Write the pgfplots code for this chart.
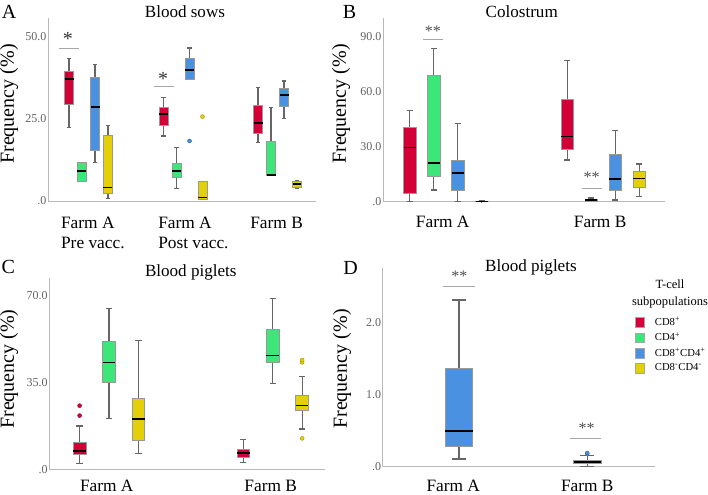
\documentclass[border=0pt]{standalone}
\usepackage{fontspec}
\setmainfont{Liberation Serif}
\usepackage{pgfplots}
\pgfplotsset{compat=1.18}
\usepgfplotslibrary{statistics}
\definecolor{cred}{RGB}{210,0,55}
\definecolor{cgreen}{RGB}{60,230,120}
\definecolor{cblue}{RGB}{75,145,225}
\definecolor{cyellow}{RGB}{228,208,10}
\tikzset{sig/.style={draw=black!35, line width=0.6pt}}
\pgfplotsset{
 every axis title shift=0pt,
 panel/.style={
  scale only axis, clip=false, axis lines*=left,
  axis line style={draw=black!28, line width=0.7pt},
  major tick length=0pt,
  ymin=0,
  boxplot/draw direction=y,
  yticklabel style={font=\fontsize{9}{10}\selectfont, text=black!62, inner sep=1pt},
  xticklabel style={font=\fontsize{13}{15}\selectfont, align=left, inner sep=0pt},
  ylabel={Frequency (\%)},
  ylabel style={font=\fontsize{15}{16}\selectfont, anchor=center, inner sep=0pt},
  title style={font=\fontsize{12.8}{14}\selectfont, anchor=center, inner sep=0pt},
  boxplot/every box/.style={draw=black!40, line width=0.6pt},
  boxplot/every whisker/.style={draw=black!60, line width=0.9pt},
  boxplot/every median/.style={draw=black, line width=1.3pt},
  boxplot/whisker extend=\pgfkeysvalueof{/pgfplots/boxplot/box extend}*0.5,
 },
 bx/.style={fill=#1, draw=black!40, mark=*, mark size=1.5pt, mark options={fill=#1, draw=#1!70!black, line width=0.3pt}},
}
\begin{document}
\begin{tikzpicture}
\useasboundingbox (0,0) rectangle (531pt,-370.5pt);
% ---------------- Panel A
\begin{axis}[panel, at={(36pt,-150.75pt)}, anchor=south west, width=201pt, height=137.25pt,
  xmin=-0.4286, xmax=2.407, ymax=55.5,
  ytick={0,25,50}, yticklabels={.0,25.0,50.0},
  xtick={0.046,1.11,1.99}, xticklabels={{Farm A\\Pre vacc.},{Farm A\\Post vacc.},{Farm B}},
  xticklabel style={yshift=-11.8pt},
  ylabel style={at={(axis description cs:-0.1455,0.53)}},
  title={Blood sows}, title style={at={(axis description cs:0.511,1.037)}}]
\addplot[bx=cred, boxplot prepared={draw position=-0.206, box extend=0.095, lower whisker=22.3, lower quartile=29.4, median=37.0, upper quartile=39.2, upper whisker=43.2}] coordinates {};
\addplot[bx=cgreen, boxplot prepared={draw position=-0.069, box extend=0.095, lower whisker=5.9, lower quartile=5.9, median=9.1, upper quartile=11.7, upper whisker=11.7}] coordinates {};
\addplot[bx=cblue, boxplot prepared={draw position=0.069, box extend=0.095, lower whisker=11.6, lower quartile=15.3, median=28.6, upper quartile=37.6, upper whisker=41.4}] coordinates {};
\addplot[bx=cyellow, boxplot prepared={draw position=0.206, box extend=0.095, lower whisker=0.8, lower quartile=2.3, median=4.1, upper quartile=19.8, upper whisker=22.8}] coordinates {};
\addplot[bx=cred, boxplot prepared={draw position=0.794, box extend=0.095, lower whisker=19.7, lower quartile=22.8, median=26.4, upper quartile=28.3, upper whisker=31.4}] coordinates {};
\addplot[bx=cgreen, boxplot prepared={draw position=0.931, box extend=0.095, lower whisker=3.7, lower quartile=7.1, median=9.2, upper quartile=11.4, upper whisker=16.3}] coordinates {};
\addplot[bx=cblue, boxplot prepared={draw position=1.069, box extend=0.095, lower whisker=37.0, lower quartile=37.0, median=39.7, upper quartile=43.3, upper whisker=46.4}] table[row sep=\\,y index=0] {data\\ 18.2\\};
\addplot[bx=cyellow, boxplot prepared={draw position=1.206, box extend=0.095, lower whisker=0.6, lower quartile=0.6, median=1.1, upper quartile=5.9, upper whisker=5.9}] table[row sep=\\,y index=0] {data\\ 25.6\\};
\addplot[bx=cred, boxplot prepared={draw position=1.794, box extend=0.095, lower whisker=17.7, lower quartile=20.6, median=23.7, upper quartile=29.0, upper whisker=34.4}] coordinates {};
\addplot[bx=cgreen, boxplot prepared={draw position=1.931, box extend=0.095, lower whisker=7.7, lower quartile=7.7, median=7.9, upper quartile=18.0, upper whisker=28.3}] coordinates {};
\addplot[bx=cblue, boxplot prepared={draw position=2.069, box extend=0.095, lower whisker=25.1, lower quartile=28.6, median=32.2, upper quartile=34.1, upper whisker=36.4}] coordinates {};
\addplot[bx=cyellow, boxplot prepared={draw position=2.206, box extend=0.095, lower whisker=3.9, lower quartile=4.2, median=5.1, upper quartile=6.0, upper whisker=6.2}] coordinates {};
\draw[sig] (axis cs:-0.312,46.3) -- (axis cs:-0.1,46.3);
\node[font=\fontsize{15}{15}\selectfont, text=black!80, inner sep=0pt] at (axis cs:-0.217,49.0) {*};
\draw[sig] (axis cs:0.693,34.85) -- (axis cs:0.905,34.85);
\node[font=\fontsize{15}{15}\selectfont, text=black!80, inner sep=0pt] at (axis cs:0.79,36.9) {*};
\end{axis}
% ---------------- Panel B
\begin{axis}[panel, at={(287.25pt,-151.3pt)}, anchor=south west, width=211.5pt, height=137.8pt,
  xmin=-0.399, xmax=1.392, ymax=100,
  ytick={0,30,60,90}, yticklabels={.0,30.0,60.0,90.0},
  xtick={-0.02,0.98}, xticklabels={Farm A,Farm B},
  xticklabel style={yshift=-10.7pt},
  ylabel style={at={(axis description cs:-0.149,0.532)}},
  title={Colostrum}, title style={at={(axis description cs:0.492,1.035)}}]
\addplot[bx=cred, boxplot prepared={draw position=-0.229, box extend=0.078, lower whisker=0, lower quartile=4.5, median=29.5, upper quartile=40.7, upper whisker=49.5}] coordinates {};
\addplot[bx=cgreen, boxplot prepared={draw position=-0.076, box extend=0.078, lower whisker=6.4, lower quartile=14.0, median=21.1, upper quartile=68.9, upper whisker=83.3}] coordinates {};
\addplot[bx=cblue, boxplot prepared={draw position=0.076, box extend=0.078, lower whisker=0, lower quartile=6.4, median=15.8, upper quartile=22.7, upper whisker=42.5}] coordinates {};
\addplot[bx=cyellow, boxplot prepared={draw position=0.229, box extend=0.078, lower whisker=0, lower quartile=0.1, median=0.2, upper quartile=0.4, upper whisker=0.6}] coordinates {};
\addplot[bx=cred, boxplot prepared={draw position=0.771, box extend=0.078, lower whisker=22.7, lower quartile=28.7, median=35.5, upper quartile=55.8, upper whisker=76.7}] coordinates {};
\addplot[bx=cgreen, boxplot prepared={draw position=0.924, box extend=0.078, lower whisker=0, lower quartile=0.3, median=0.8, upper quartile=1.4, upper whisker=2.0}] coordinates {};
\addplot[bx=cblue, boxplot prepared={draw position=1.076, box extend=0.078, lower whisker=0.9, lower quartile=6.4, median=12.2, upper quartile=25.5, upper whisker=38.9}] coordinates {};
\addplot[bx=cyellow, boxplot prepared={draw position=1.229, box extend=0.078, lower whisker=2.7, lower quartile=7.6, median=12.7, upper quartile=16.5, upper whisker=20.5}] coordinates {};
\draw[sig] (axis cs:-0.143,88.6) -- (axis cs:-0.016,88.6);
\node[font=\fontsize{12}{12}\selectfont, text=black!70, inner sep=0pt] at (axis cs:-0.083,92.6) {**};
\draw[sig] (axis cs:0.863,7.3) -- (axis cs:0.99,7.3);
\node[font=\fontsize{12}{12}\selectfont, text=black!70, inner sep=0pt] at (axis cs:0.926,13.5) {**};
\end{axis}
% ---------------- Panel C
\begin{axis}[panel, at={(37pt,-352pt)}, anchor=south west, width=206.8pt, height=143.25pt,
  xmin=-0.365, xmax=1.32, ymax=77.1,
  ytick={0,35,70}, yticklabels={.0,35.0,70.0},
  xtick={-0.014,0.988}, xticklabels={Farm A,Farm B},
  xticklabel style={yshift=-8pt},
  ylabel style={at={(axis description cs:-0.146,0.525)}},
  title={Blood piglets}, title style={at={(axis description cs:0.513,1.033)}}]
\addplot[bx=cred, boxplot prepared={draw position=-0.18, box extend=0.077, lower whisker=2.4, lower quartile=6.2, median=7.5, upper quartile=11.0, upper whisker=17.5}] table[row sep=\\,y index=0] {data\\ 21.7\\ 25.7\\};
\addplot[bx=cgreen, boxplot prepared={draw position=0, box extend=0.077, lower whisker=20.6, lower quartile=35.0, median=43.1, upper quartile=51.8, upper whisker=65.0}] coordinates {};
\addplot[bx=cyellow, boxplot prepared={draw position=0.18, box extend=0.077, lower whisker=6.3, lower quartile=11.8, median=20.2, upper quartile=28.7, upper whisker=52.0}] coordinates {};
\addplot[bx=cred, boxplot prepared={draw position=0.82, box extend=0.077, lower whisker=2.7, lower quartile=4.8, median=6.5, upper quartile=8.1, upper whisker=12.2}] coordinates {};
\addplot[bx=cgreen, boxplot prepared={draw position=1, box extend=0.077, lower whisker=34.5, lower quartile=43.1, median=45.9, upper quartile=56.3, upper whisker=69.0}] coordinates {};
\addplot[bx=cyellow, boxplot prepared={draw position=1.18, box extend=0.077, lower whisker=16.3, lower quartile=23.6, median=25.8, upper quartile=30.0, upper whisker=37.4}] table[row sep=\\,y index=0] {data\\ 12.5\\ 43.2\\ 44.1\\};
\end{axis}
% ---------------- Panel D
\begin{axis}[panel, at={(287pt,-350pt)}, anchor=south west, width=204.2pt, height=148.8pt,
  xmin=-0.527, xmax=1.505, ymax=2.75,
  ytick={0,1,2}, yticklabels={.0,1.0,2.0},
  xtick={0,1}, xticklabels={Farm A,Farm B},
  xticklabel style={yshift=-10pt},
  ylabel style={at={(axis description cs:-0.149,0.4925)}},
  title={Blood piglets}, title style={at={(axis description cs:0.5446,1.0066)}},
  legend image code/.code={\draw[#1] (0pt,-3.6pt) rectangle (7.2pt,3.6pt);},
  legend cell align=left,
  legend style={draw=none, fill=none, at={(axis description cs:0.925,0.7586)}, anchor=north west,
    inner sep=0pt, font=\fontsize{8}{9}\selectfont, row sep=2.9pt, column sep=7pt,
    nodes={inner sep=0.5pt}}]
\addlegendimage{fill=cred, draw=black!35}
\addlegendentry{CD8\textsuperscript{+}}
\addlegendimage{fill=cgreen, draw=black!35}
\addlegendentry{CD4\textsuperscript{+}}
\addlegendimage{fill=cblue, draw=black!35}
\addlegendentry{CD8\textsuperscript{+}CD4\textsuperscript{+}}
\addlegendimage{fill=cyellow, draw=black!35}
\addlegendentry{CD8\textsuperscript{-}CD4\textsuperscript{-}}
\addplot[forget plot, bx=cblue, boxplot prepared={draw position=0.043, box extend=0.205, lower whisker=0.106, lower quartile=0.287, median=0.495, upper quartile=1.36, upper whisker=2.31}] coordinates {};
\addplot[forget plot, bx=cblue, boxplot prepared={draw position=1.0, box extend=0.205, lower whisker=0.0, lower quartile=0.046, median=0.069, upper quartile=0.093, upper whisker=0.153}] table[row sep=\\,y index=0] {data\\ 0.175\\ 0.19\\};
\draw[sig] (axis cs:-0.075,2.5) -- (axis cs:0.162,2.5);
\node[font=\fontsize{12}{12}\selectfont, text=black!70, inner sep=0pt] at (axis cs:0.045,2.635) {**};
\draw[sig] (axis cs:0.871,0.385) -- (axis cs:1.1,0.385);
\node[font=\fontsize{12}{12}\selectfont, text=black!70, inner sep=0pt] at (axis cs:0.995,0.528) {**};
\end{axis}
% ---------------- letters and legend title
\node[font=\fontsize{15}{15}\selectfont, inner sep=0pt] at (6.9pt,-8.8pt) {A};
\node[font=\fontsize{15}{15}\selectfont, inner sep=0pt] at (262.1pt,-8.8pt) {B};
\node[font=\fontsize{15}{15}\selectfont, inner sep=0pt] at (6.2pt,-200.6pt) {C};
\node[font=\fontsize{15}{15}\selectfont, inner sep=0pt] at (263pt,-200.6pt) {D};
\node[font=\fontsize{9.4}{12.5}\selectfont, align=center, inner sep=0pt, anchor=north] at (502.5pt,-209.6pt) {T-cell\\subpopulations};
\end{tikzpicture}
\end{document}
